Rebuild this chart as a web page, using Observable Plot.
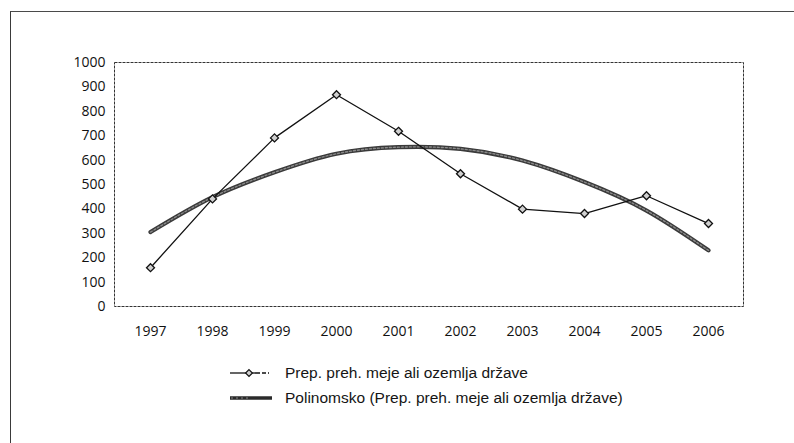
<!DOCTYPE html>
<html>
<head>
<meta charset="utf-8">
<script src="https://cdn.jsdelivr.net/npm/d3@7"></script>
<script src="https://cdn.jsdelivr.net/npm/@observablehq/plot@0.6"></script>
<style>
  html, body { margin: 0; padding: 0; background: #fff; }
  #wrap { position: relative; width: 794px; height: 443px; overflow: hidden; background: #fff; }
  #frame { position: absolute; left: 10px; top: 11px; width: 800px; height: 450px;
           border-left: 1.5px solid #3a3a3a; border-top: 1.5px solid #4a4a4a; }
  #chart { position: absolute; left: 0; top: 0; }
  #legend { position: absolute; left: 229px; top: 364px;
            font-family: "Liberation Sans", Arial, sans-serif; font-size: 15.5px; color: #151515; }
  .row { display: flex; align-items: center; height: 18px; margin-bottom: 7px; }
  .row svg { margin-right: 12px; flex: none; }
</style>
</head>
<body>
<div id="wrap">
  <div id="frame"></div>
  <div id="chart"></div>
  <div id="legend"></div>
</div>
<script>
// ---- data ----
const years = ["1997","1998","1999","2000","2001","2002","2003","2004","2005","2006"];
const seriesValues = [159, 441, 691, 868, 718, 544, 399, 381, 454, 340];
const trendValues = [305, 448, 550, 626, 653, 646, 598, 510, 393, 230];
const yTicks = [0,100,200,300,400,500,600,700,800,900,1000];
const seriesName = "Prep. preh. meje ali ozemlja države";
const trendName = "Polinomsko (Prep. preh. meje ali ozemlja države)";

const data = years.map((y, i) => ({year: y, value: seriesValues[i]}));
const trend = years.map((y, i) => ({year: y, value: trendValues[i]}));

const chart = Plot.plot({
  width: 794,
  height: 443,
  marginLeft: 114,
  marginRight: 51,
  marginTop: 62,
  marginBottom: 137,
  style: { fontFamily: "'Open Sans', sans-serif", fontSize: "14px", color: "#111", background: "transparent" },
  x: { type: "point", domain: years, padding: 0.5, label: null },
  y: { domain: [0, 1000], label: null },
  marks: [
    Plot.frame({ stroke: "#333", strokeWidth: 1, strokeDasharray: "3,1" }),
    Plot.axisY({ ticks: yTicks, tickFormat: d => String(d), tickSize: 0, tickPadding: 9, fontSize: 14, label: null }),
    Plot.axisX({ tickSize: 0, tickPadding: 20, fontSize: 14, label: null }),
    Plot.line(trend, { x: "year", y: "value", stroke: "#3a3a3a", strokeWidth: 4.2, curve: "natural" }),
    Plot.line(trend, { x: "year", y: "value", stroke: "#8a8a8a", strokeWidth: 1.4, strokeDasharray: "2,2", curve: "natural" }),
    Plot.line(data, { x: "year", y: "value", stroke: "#111", strokeWidth: 1.3 }),
    Plot.dot(data, { x: "year", y: "value", symbol: "diamond2", r: 3.6, fill: "#d0d0d0", stroke: "#111", strokeWidth: 1.3 })
  ]
});
document.getElementById("chart").appendChild(chart);

// ---- legend ----
const legend = d3.select("#legend");
const r1 = legend.append("div").attr("class", "row");
const s1 = r1.append("svg").attr("width", 44).attr("height", 14);
s1.append("line").attr("x1", 1).attr("x2", 27).attr("y1", 7).attr("y2", 7).attr("stroke", "#111").attr("stroke-width", 1.3);
s1.append("line").attr("x1", 27).attr("x2", 40).attr("y1", 7).attr("y2", 7).attr("stroke", "#111").attr("stroke-width", 1.3).attr("stroke-dasharray", "4,2");
s1.append("path").attr("d", d3.symbol(d3.symbolDiamond2, 30)()).attr("transform", "translate(20,7)")
  .attr("fill", "#d0d0d0").attr("stroke", "#111").attr("stroke-width", 1.2);
r1.append("span").text(seriesName);

const r2 = legend.append("div").attr("class", "row");
const s2 = r2.append("svg").attr("width", 44).attr("height", 14);
s2.append("line").attr("x1", 1).attr("x2", 43).attr("y1", 7).attr("y2", 7).attr("stroke", "#2a2a2a").attr("stroke-width", 3.6);
s2.append("line").attr("x1", 2).attr("x2", 22).attr("y1", 7).attr("y2", 7).attr("stroke", "#888").attr("stroke-width", 1).attr("stroke-dasharray", "2,3");
r2.append("span").text(trendName);
</script>
</body>
</html>
